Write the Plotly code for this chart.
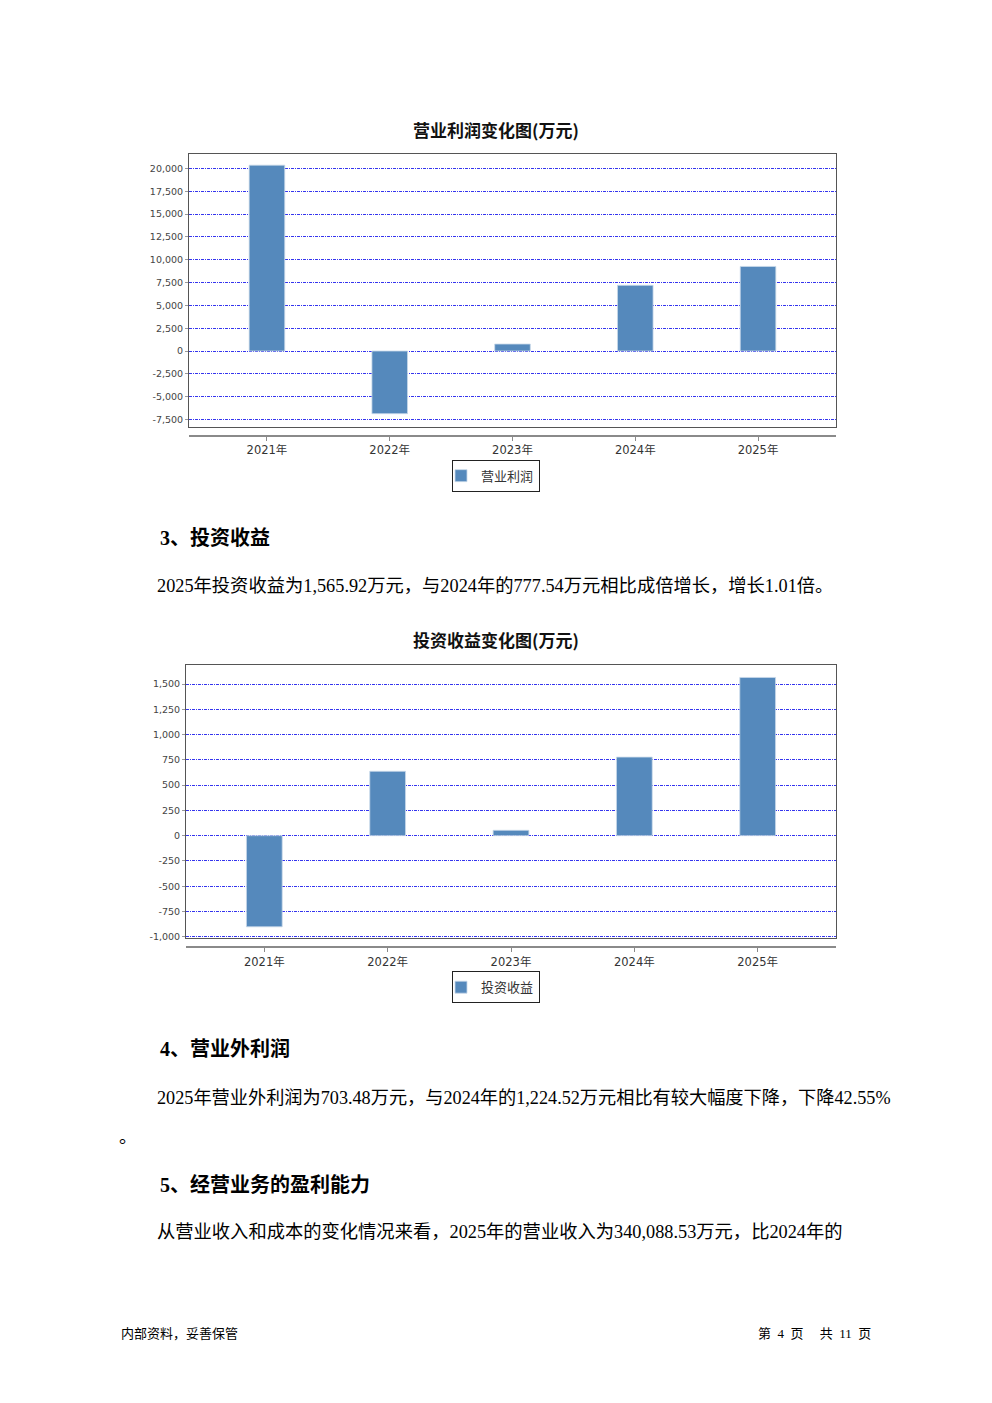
import plotly.graph_objects as go

# ---------------- data ----------------
years = ["2021年", "2022年", "2023年", "2024年", "2025年"]
op_profit = [20370, -6870, 765, 7200, 9270]          # 营业利润 (万元)
inv_income = [-902, 637, 53, 777.54, 1565.92]        # 投资收益 (万元)

op_ticks = [-7500, -5000, -2500, 0, 2500, 5000, 7500, 10000, 12500, 15000, 17500, 20000]
inv_ticks = [-1000, -750, -500, -250, 0, 250, 500, 750, 1000, 1250, 1500]

title1 = "营业利润变化图(万元)"
title2 = "投资收益变化图(万元)"
series1 = "营业利润"
series2 = "投资收益"

texts = [
    # (x px, y px, text, size, bold)
    (160, 537, "3、投资收益", 20, True),
    (157, 585, "2025年投资收益为1,565.92万元，与2024年的777.54万元相比成倍增长，增长1.01倍。", 18.3, False),
    (160, 1048, "4、营业外利润", 20, True),
    (157, 1098, "2025年营业外利润为703.48万元，与2024年的1,224.52万元相比有较大幅度下降，下降42.55%", 18.2, False),
    (119, 1137, "。", 18, False),
    (160, 1185, "5、经营业务的盈利能力", 20, True),
    (157, 1233, "从营业收入和成本的变化情况来看，2025年的营业收入为340,088.53万元，比2024年的", 18.3, False),
    (121, 1334, "内部资料，妥善保管", 13, False),
]
NB = "\u00a0"
footer_right = f"第{NB*2}4{NB*2}页{NB*5}共{NB*2}11{NB*2}页"

# ---------------- layout helpers ----------------
OFF = 8                     # page body margin
W, H = 992 - OFF, 1403 - OFF
px = lambda x: (x - OFF) / W
py = lambda y: 1 - (y - OFF) / H
tx = lambda x: px(x - 2)    # annotation text padding
ty = lambda y: py(y + 3)

BAR_COLOR = "#5589bc"
GRID_COLOR = "#3535ee"
FRAME_COLOR = "#555555"
CJK = "Noto Sans CJK SC"
BODY_FONT = "Liberation Serif, Noto Sans CJK SC"
TICK_FONT = "DejaVu Sans, Noto Sans CJK SC"

fig = go.Figure()

bar_line = dict(color="#c9d9ea", width=0.8)
# chart 1
fig.add_trace(go.Bar(x=years, y=op_profit, name=series1, marker=dict(color=BAR_COLOR, line=bar_line),
                     width=0.29, xaxis="x", yaxis="y", legend="legend", hoverinfo="x+y"))
fig.add_trace(go.Bar(x=years, y=op_profit, xaxis="x3", yaxis="y", opacity=0, showlegend=False,
                     hoverinfo="skip", width=0.29))
# chart 2
fig.add_trace(go.Bar(x=years, y=inv_income, name=series2, marker=dict(color=BAR_COLOR, line=bar_line),
                     width=0.29, xaxis="x2", yaxis="y2", legend="legend2", hoverinfo="x+y"))
fig.add_trace(go.Bar(x=years, y=inv_income, xaxis="x4", yaxis="y2", opacity=0, showlegend=False,
                     hoverinfo="skip", width=0.29))

cat_range = [-0.635, 4.635]


def frame_x(domain, anchor):
    return dict(domain=domain, anchor=anchor, type="category", range=cat_range,
                showline=True, mirror=True, linecolor=FRAME_COLOR, linewidth=1,
                showticklabels=False, ticks="", showgrid=False, zeroline=False, fixedrange=True)


def lower_x(domain, overlay, pos):
    return dict(domain=domain, overlaying=overlay, anchor="free", position=pos, type="category",
                range=cat_range, showline=True, linecolor="#8a8a8a", linewidth=1.5,
                ticks="outside", ticklen=4, tickcolor="#8a8a8a", tickwidth=1,
                tickfont=dict(family=TICK_FONT, size=11.5, color="#333333"),
                showgrid=False, zeroline=False, fixedrange=True)


def frame_y(domain, anchor, rng, ticks):
    return dict(domain=domain, anchor=anchor, range=rng, tickvals=ticks,
                ticktext=[f"{t:,}" for t in ticks],
                showline=True, mirror=True, linecolor=FRAME_COLOR, linewidth=1,
                ticks="outside", ticklen=3, tickcolor="#999999",
                tickfont=dict(family=TICK_FONT, size=9.5, color="#444444"),
                showgrid=True, gridcolor=GRID_COLOR, gridwidth=1, griddash="3px,1px,1px,1px",
                zeroline=False, fixedrange=True)


x1_dom = [px(189), px(836)]
x2_dom = [px(186), px(836)]

legend_style = dict(x=px(496), xanchor="center", yanchor="top",
                    bordercolor="#222222", borderwidth=1, bgcolor="white",
                    font=dict(family=CJK, size=13, color="#333333"), itemwidth=30,
                    indentation=-12)

fig.update_layout(
    width=W, height=H,
    margin=dict(l=0, r=0, t=0, b=0),
    paper_bgcolor="white", plot_bgcolor="white",
    barmode="overlay",
    xaxis=frame_x(x1_dom, "y"),
    yaxis=frame_y([py(428), py(154)], "x", [-8306, 21639], op_ticks),
    xaxis3=lower_x(x1_dom, "x", py(437)),
    xaxis2=frame_x(x2_dom, "y2"),
    yaxis2=frame_y([py(941), py(667)], "x2", [-1016, 1688], inv_ticks),
    xaxis4=lower_x(x2_dom, "x2", py(950)),
    legend=dict(legend_style, y=py(461)),
    legend2=dict(legend_style, y=py(974)),
    showlegend=True,
)

annotations = [
    dict(x=px(496), y=py(130), text=f"<b>{title1}</b>", showarrow=False, xanchor="center", yanchor="middle",
         font=dict(family=CJK, size=17, color="#111111")),
    dict(x=px(496), y=py(641), text=f"<b>{title2}</b>", showarrow=False, xanchor="center", yanchor="middle",
         font=dict(family=CJK, size=17, color="#111111")),
]
for (x, y, t, s, b) in texts:
    annotations.append(dict(x=tx(x), y=ty(y), text=(f"<b>{t}</b>" if b else t), showarrow=False,
                            xanchor="left", yanchor="middle",
                            font=dict(family=BODY_FONT, size=s, color="#000000")))
annotations.append(dict(x=px(873), y=ty(1334), text=footer_right, showarrow=False, xanchor="right",
                        yanchor="middle", font=dict(family=BODY_FONT, size=13, color="#000000")))
for a in annotations:
    a["xref"] = "paper"
    a["yref"] = "paper"
fig.update_layout(annotations=annotations)

fig.write_html("out.html")
